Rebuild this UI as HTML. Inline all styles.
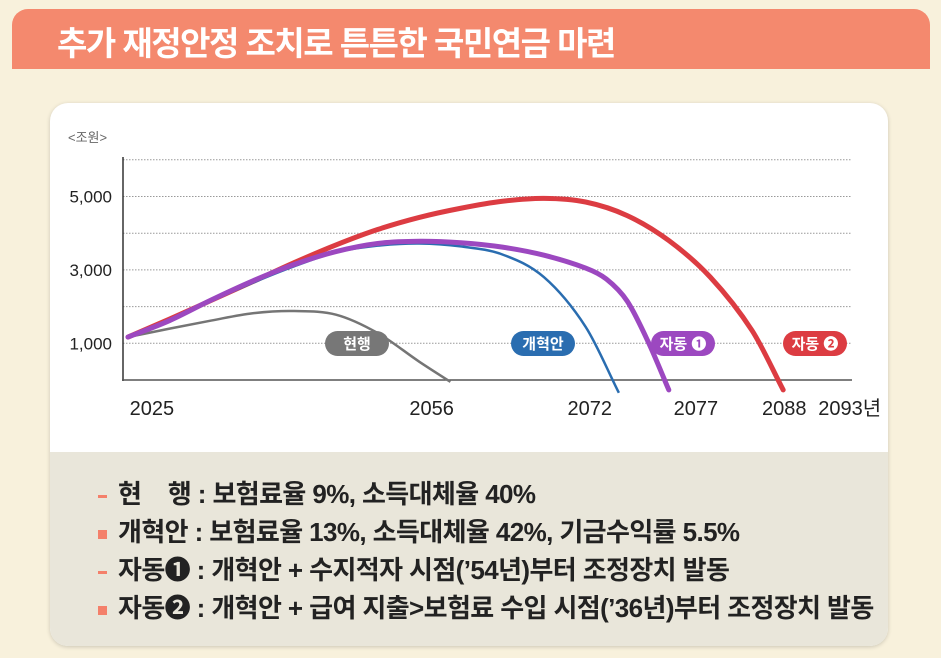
<!DOCTYPE html>
<html><head><meta charset="utf-8">
<style>
body{margin:0;width:941px;height:658px;background:#f8f1dc;font-family:"Liberation Sans","Noto Sans CJK KR",sans-serif;position:relative;overflow:hidden}
#hdr{position:absolute;left:12px;top:9px;width:918px;height:60px;background:#f4896e;border-radius:16px 16px 0 0}
#hdr span{position:absolute;left:45px;top:8px;color:#fff;font-size:33px;font-weight:bold;letter-spacing:-1.5px}
#card{position:absolute;left:50px;top:103px;width:838px;height:543px;background:#fff;border-radius:18px;box-shadow:0 1px 4px rgba(0,0,0,.18);overflow:hidden}
#leg{position:absolute;left:0;top:349px;width:838px;height:194px;background:#e9e6da}
.li{position:absolute;left:48px;font-size:26px;font-weight:bold;color:#222;letter-spacing:-0.6px;white-space:nowrap}
.b{display:inline-block;width:9px;height:9px;background:#f4806a;margin-right:11px;vertical-align:middle}
.d{display:inline-block;width:9px;height:3px;background:#f4806a;margin-right:11px;vertical-align:middle}
</style></head><body>
<div id="hdr"><span>추가 재정안정 조치로 튼튼한 국민연금 마련</span></div>
<div id="card">
<div id="leg">
<div class="li" style="top:22px"><span class="d"></span>현&nbsp;&nbsp;&nbsp;&nbsp;행 : 보험료율 9%, 소득대체율 40%</div>
<div class="li" style="top:60px"><span class="b"></span>개혁안 : 보험료율 13%, 소득대체율 42%, 기금수익률 5.5%</div>
<div class="li" style="top:98px"><span class="d"></span>자동❶ : 개혁안 + 수지적자 시점(’54년)부터 조정장치 발동</div>
<div class="li" style="top:136px"><span class="b"></span>자동❷ : 개혁안 + 급여 지출&gt;보험료 수입 시점(’36년)부터 조정장치 발동</div>
</div>
</div>
<svg id="chart" width="941" height="658" style="position:absolute;left:0;top:0"></svg>
<script>
const yTicks=[1000,3000,5000];
const gridVals=[1000,2000,3000,4000,5000,6000];
const xLabels=["2025","2056","2072","2077","2088","2093년"];
const xLabelYears=[2027.3,2054.2,2069.4,2079.6,2088.1,2094.4];
const curYears=[2025,2029,2033,2037,2041,2045,2049,2053,2056];
const curVals=[1170,1400,1620,1820,1880,1780,1280,500,-50];
const refYears=[2025,2029,2033,2037,2041,2045,2049,2053,2057,2061,2065,2069,2072.2];
const refVals=[1170,1600,2150,2650,3100,3480,3660,3720,3640,3420,2800,1450,-350];
const a1Years=[2025,2029,2033,2037,2041,2045,2049,2053,2057,2061,2065,2069,2071,2073,2075,2077];
const a1Vals=[1170,1620,2180,2700,3150,3500,3720,3780,3740,3620,3400,3050,2750,2150,1050,-270];
const a2Years=[2025,2029,2033,2037,2041,2045,2049,2053,2057,2061,2065,2069,2073,2077,2081,2085,2088];
const a2Vals=[1170,1660,2170,2680,3200,3680,4100,4430,4680,4870,4950,4850,4480,3800,2800,1350,-270];
const X=y=>128+(y-2025)*10.4;
const Y=v=>380-v*0.0367;
const svg=document.getElementById('chart');const NS='http://www.w3.org/2000/svg';
function mk(t,a,name,inter){const e=document.createElementNS(NS,t);for(const k in a)e.setAttribute(k,a[k]);


svg.appendChild(e);return e;}
gridVals.forEach(v=>{mk('line',{x1:123,x2:852,y1:Y(v),y2:Y(v),stroke:'#999','stroke-dasharray':'1.5 1.5','stroke-width':1},'grid-line');});
mk('line',{x1:123,x2:123,y1:157,y2:381,stroke:'#333','stroke-width':1.5},'y-axis');
mk('line',{x1:122,x2:852,y1:380,y2:380,stroke:'#555','stroke-width':1.5},'x-axis');
let u=mk('text',{x:68,y:142,'font-size':13,fill:'#666'},'y-axis-unit');u.textContent='<조원>';
yTicks.forEach(v=>{let t=mk('text',{x:112,y:Y(v)+6,'font-size':17,fill:'#222','text-anchor':'end'},'y-tick-label');t.textContent=v.toLocaleString('en-US');});
xLabels.forEach((l,i)=>{let t=mk('text',{x:X(xLabelYears[i]),y:415,'font-size':20,fill:'#222','text-anchor':'middle'},'x-tick-label');t.textContent=l;});
function path(xs,vs){const n=xs.length;const px=xs.map(X),py=vs.map(Y);
const m=px.map((_,i)=>{const a=Math.max(0,i-1),b=Math.min(n-1,i+1);return (py[b]-py[a])/(px[b]-px[a]);});
let d='M'+px[0]+','+py[0];
for(let i=0;i<n-1;i++){const h=(px[i+1]-px[i])/3;
d+=` C${px[i]+h},${py[i]+m[i]*h} ${px[i+1]-h},${py[i+1]-m[i+1]*h} ${px[i+1]},${py[i+1]}`;}return d;}
mk('path',{d:path(curYears,curVals),fill:'none',stroke:'#757575','stroke-width':2.5},'line-current');
mk('path',{d:path(a2Years,a2Vals),fill:'none',stroke:'#dc3c42','stroke-width':5,'stroke-linecap':'round'},'line-auto2');
mk('path',{d:path(refYears,refVals),fill:'none',stroke:'#2a6db0','stroke-width':2.5},'line-reform');
mk('path',{d:path(a1Years,a1Vals),fill:'none',stroke:'#9c48c0','stroke-width':5,'stroke-linecap':'round'},'line-auto1');
function badge(cx,label,col,name){mk('rect',{x:cx-32,y:331,width:64,height:25,rx:12.5,fill:col},name);
let t=mk('text',{x:cx,y:349,'font-size':15,'font-weight':'bold',fill:'#fff','text-anchor':'middle'},name+'-text');t.textContent=label;}
badge(357,'현행','#777','badge-current');
badge(543,'개혁안','#2a6db0','badge-reform');
badge(683,'자동 ❶','#9c48c0','badge-auto1');
badge(815,'자동 ❷','#dc3c42','badge-auto2');
</script>
</body></html>
